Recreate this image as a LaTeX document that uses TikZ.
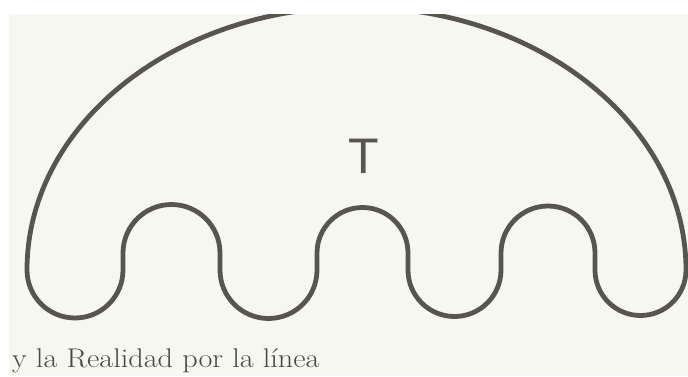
\documentclass[tikz,border=0pt]{standalone}
\usepackage{fontspec}
\usepackage{tikz}
\usetikzlibrary{positioning}
\newfontfamily\letterfont{Liberation Sans}
\definecolor{paperbg}{HTML}{F7F7F1}
\definecolor{inkline}{HTML}{58554F}
\definecolor{inktext}{HTML}{4A4743}

\begin{document}
\begin{tikzpicture}[x=1pt,y=1pt,
    outline/.style={draw=inkline,line width=4.8pt,line join=round}]
  \useasboundingbox (0,0) rectangle (688,376);
  \fill[white] (0,0) rectangle (688,376);
  \fill[paperbg] (9,0) rectangle (688,362);
  % the dome with its wavy underside
  \begin{scope}
    \clip (9,0) rectangle (688,362);
    \draw[outline] (27,106)
      arc[start angle=180,end angle=0,x radius=329.5,y radius=263]
      arc[start angle=0,end angle=-180,radius=45.5]
      -- (595,123) arc[start angle=0,end angle=180,radius=47]
      -- (501,106) arc[start angle=0,end angle=-180,radius=46.5]
      -- (408,123) arc[start angle=0,end angle=180,radius=45.5]
      -- (317,106) arc[start angle=0,end angle=-180,radius=48.5]
      -- (220,123) arc[start angle=0,end angle=180,radius=48.5]
      -- (123,106) arc[start angle=0,end angle=-180,radius=48]
      -- cycle;
  \end{scope}
  \node[text=inkline,inner sep=0pt,anchor=base,
        font=\letterfont\fontsize{50}{50}\selectfont] (tlabel) at (364,203) {T};
  \node[text=inktext,inner sep=0pt,anchor=base west,
        font=\fontsize{27}{27}\selectfont] (caption) at (12,9)
    {\scalebox{1.12}[1]{y la Realidad por la línea}};
\end{tikzpicture}
\end{document}
